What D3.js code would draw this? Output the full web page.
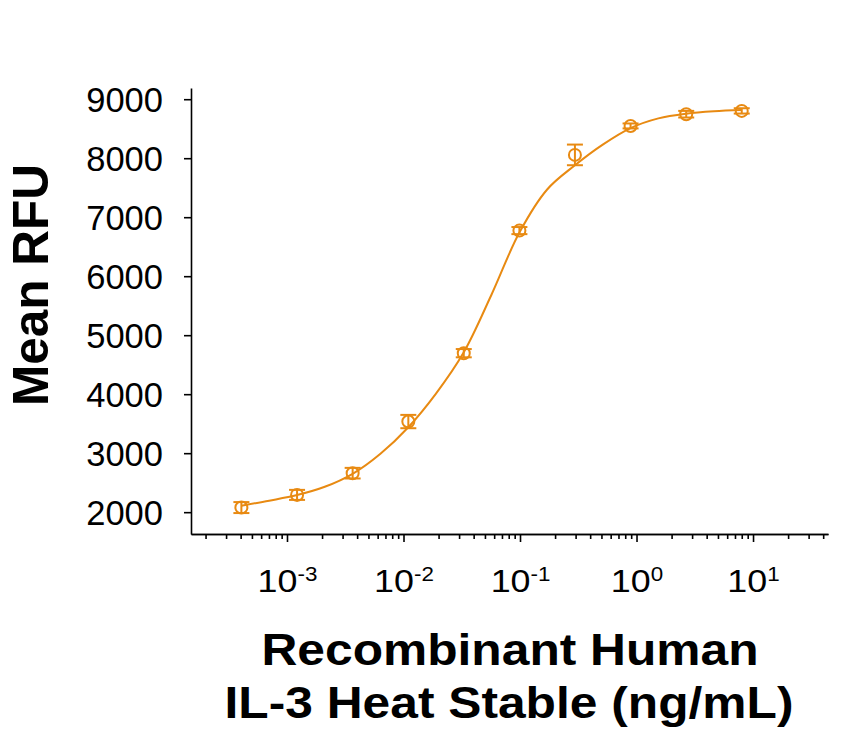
<!DOCTYPE html>
<html lang="en">
<head>
<meta charset="UTF-8">
<title>IL-3 Heat Stable dose response</title>
<script src="https://cdn.jsdelivr.net/npm/d3@7"></script>
<style>
    body { margin: 0; background: #fff; }
    svg { font-family: Arial, "Liberation Sans", sans-serif; }
    .axis path, .axis line { stroke: #000; stroke-width: 1.6px; }
</style>
</head>
<body>
<div id="graphDiv"></div>
<script>
// measured points (ng/mL), mean RFU and error
const conc = [0.000406, 0.00122, 0.00366, 0.011, 0.0329, 0.0988, 0.296, 0.889, 2.67, 8];
const rfu = [2078, 2293, 2661, 3536, 4695, 6773, 8056, 8547, 8746, 8802];
const err = [93, 85, 90, 113, 70, 60, 175, 42, 56, 45];

// fitted curve
const curveX = [0.000406, 0.000703, 0.00122, 0.00211, 0.00366, 0.00634, 0.011, 0.019, 0.0329,
    0.057, 0.0988, 0.171, 0.296, 0.513, 0.889, 1.54, 2.67, 4.62, 8];
const curveY = [2110, 2195, 2290, 2430, 2650, 2990, 3440, 4010, 4710,
    5690, 6740, 7470, 7880, 8230, 8510, 8675, 8755, 8795, 8815];

const yTicks = [2000, 3000, 4000, 5000, 6000, 7000, 8000, 9000];
const xMajor = [-3, -2, -1, 0, 1];

const width = 867, height = 738;
const color = "#E88A12";

const svg = d3.select("#graphDiv").append("svg")
    .attr("width", width)
    .attr("height", height);

const x = d3.scaleLog().domain([1.5e-4, 44]).range([191, 828]);
const y = d3.scaleLinear().domain([1630, 9190]).range([534, 88]);

// minor ticks for every decade
const minor = [];
for (let e = -4; e <= 1; e++) {
    for (let m = 2; m <= 9; m++) {
        const v = m * Math.pow(10, e);
        if (v >= 1.5e-4 && v <= 44) minor.push(v);
    }
}

svg.append("g")
    .attr("class", "axis")
    .attr("transform", "translate(0,534)")
    .call(d3.axisBottom(x).tickValues(minor).tickSize(5).tickSizeOuter(0).tickFormat(""));

const xAxis = svg.append("g")
    .attr("class", "axis")
    .attr("transform", "translate(0,534)")
    .call(d3.axisBottom(x).tickValues(xMajor.map(e => Math.pow(10, e))).tickSize(8).tickSizeOuter(0).tickFormat(""));

xAxis.selectAll(".tick").each(function(d) {
    const t = d3.select(this).append("text")
        .attr("fill", "#000")
        .attr("text-anchor", "middle")
        .attr("transform", "translate(0,58)scale(1.12,1)")
        .style("font-size", "32px");
    t.append("tspan").text("10");
    t.append("tspan")
        .attr("dy", -11)
        .style("font-size", "20px")
        .text(Math.round(Math.log10(d)));
});

svg.append("g")
    .attr("class", "axis")
    .attr("transform", "translate(191,0)")
    .call(d3.axisLeft(y).tickValues(yTicks).tickSize(7).tickSizeOuter(0).tickFormat(d => d))
    .selectAll("text")
    .attr("x", -28)
    .attr("dy", "0.36em")
    .attr("fill", "#000")
    .style("font-size", "34.5px");

// fitted curve
const line = d3.line()
    .x((d, i) => x(curveX[i]))
    .y(d => y(d))
    .curve(d3.curveCatmullRom);

svg.append("path")
    .datum(curveY)
    .attr("fill", "none")
    .attr("stroke", color)
    .attr("stroke-width", 2)
    .attr("d", line);

// error bars and markers
const pts = svg.append("g")
    .selectAll("g")
    .data(conc)
    .join("g")
    .attr("stroke", color)
    .attr("stroke-width", 2)
    .attr("fill", "none");

pts.append("line")
    .attr("x1", d => x(d)).attr("x2", d => x(d))
    .attr("y1", (d, i) => y(rfu[i] - err[i]))
    .attr("y2", (d, i) => y(rfu[i] + err[i]));
pts.append("line")
    .attr("x1", d => x(d) - 8).attr("x2", d => x(d) + 8)
    .attr("y1", (d, i) => y(rfu[i] + err[i]))
    .attr("y2", (d, i) => y(rfu[i] + err[i]));
pts.append("line")
    .attr("x1", d => x(d) - 8).attr("x2", d => x(d) + 8)
    .attr("y1", (d, i) => y(rfu[i] - err[i]))
    .attr("y2", (d, i) => y(rfu[i] - err[i]));
pts.append("circle")
    .attr("cx", d => x(d))
    .attr("cy", (d, i) => y(rfu[i]))
    .attr("r", 6);

// axis titles
svg.append("text")
    .attr("text-anchor", "middle")
    .attr("transform", "translate(510,665)scale(1.13,1)")
    .style("font-size", "44px")
    .style("font-weight", "bold")
    .text("Recombinant Human");

svg.append("text")
    .attr("text-anchor", "middle")
    .attr("transform", "translate(509,718)scale(1.13,1)")
    .style("font-size", "44px")
    .style("font-weight", "bold")
    .text("IL-3 Heat Stable (ng/mL)");

svg.append("text")
    .attr("text-anchor", "middle")
    .attr("transform", "translate(48,285)rotate(-90)")
    .style("font-size", "49.5px")
    .style("font-weight", "bold")
    .text("Mean RFU");
</script>
</body>
</html>
